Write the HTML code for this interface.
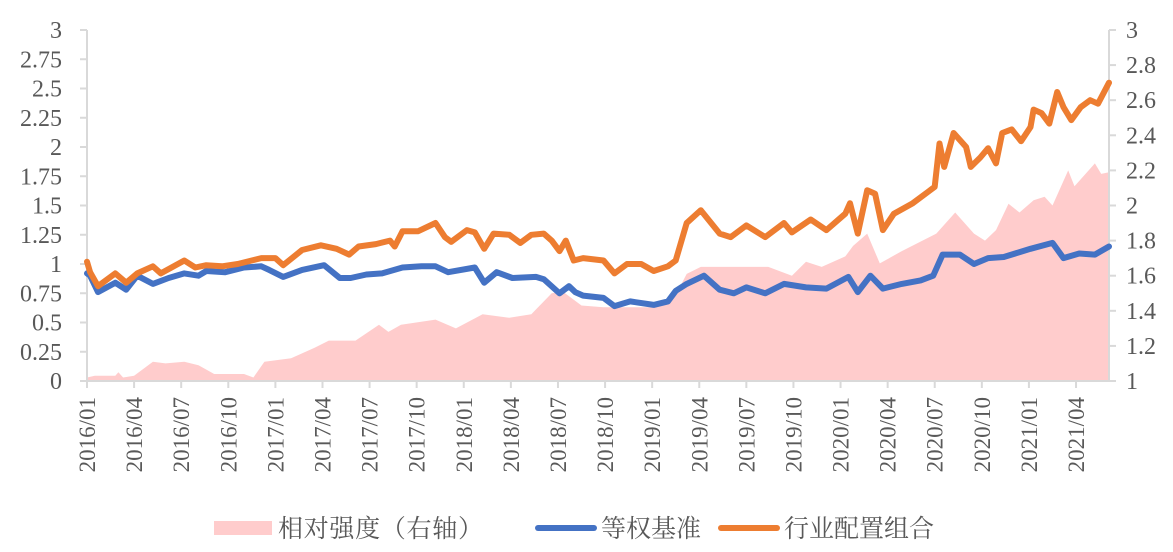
<!DOCTYPE html>
<html><head><meta charset="utf-8"><style>
html,body{margin:0;padding:0;background:#fff;}
svg{display:block;}
text{font-family:"Liberation Serif","Noto Serif CJK SC",serif;fill:#595959;}
.cjk{font-family:"Liberation Serif","Noto Serif CJK SC","Noto Sans CJK SC",serif;}
</style></head><body>
<svg id="chart" width="1173" height="552" viewBox="0 0 1173 552">
<g id="area"></g>
<g id="grid"></g>
<g id="lines"></g>
<g id="legend">
 <rect x="214" y="521" width="58" height="14" fill="#ffcccc"/>
 <text class="cjk" x="278" y="537" font-size="25" textLength="205">相对强度（右轴）</text>
 <line x1="538" y1="528" x2="594" y2="528" stroke="#4472c4" stroke-width="6" stroke-linecap="round"/>
 <text class="cjk" x="601" y="537" font-size="25">等权基准</text>
 <line x1="721" y1="528" x2="777" y2="528" stroke="#ed7d31" stroke-width="6" stroke-linecap="round"/>
 <text class="cjk" x="784" y="537" font-size="25">行业配置组合</text>
</g>
</svg>
<script>
// x in months since 2016/01
const blueMonths=[0,0.2,0.7,1.8,2.5,3.2,4.2,5.2,6.2,7.1,7.6,8.8,10,11.1,11.6,12.5,13.7,15.1,16.1,16.8,17.8,18.8,20.1,21.3,22.2,23,24.7,25.3,26.1,27.1,28.6,29.1,30.1,30.7,31.1,31.6,32.9,33.6,34.6,36.1,37,37.5,38.2,39.3,40.3,41.2,42,43.2,44.4,45.8,47.1,48.5,49.1,49.9,50.7,51.9,53.1,53.9,54.5,55.6,56.5,57.4,58.4,60.1,61.5,62.2,63.2,64.2,65.1];
const blueValues=[0.92,0.9,0.76,0.84,0.78,0.9,0.83,0.88,0.92,0.9,0.94,0.93,0.97,0.98,0.95,0.89,0.95,0.99,0.88,0.88,0.91,0.92,0.97,0.98,0.98,0.93,0.97,0.84,0.93,0.88,0.89,0.87,0.75,0.81,0.76,0.73,0.71,0.64,0.68,0.65,0.68,0.77,0.83,0.9,0.78,0.75,0.8,0.75,0.83,0.8,0.79,0.89,0.76,0.9,0.79,0.83,0.86,0.9,1.08,1.08,1.0,1.05,1.06,1.13,1.18,1.05,1.09,1.08,1.15];
const orangeMonths=[0,0.2,0.7,1.8,2.5,3.2,4.2,4.7,6.2,6.9,7.6,8.6,9.6,11.1,12,12.5,13.7,14.9,15.9,16.7,17.3,18.4,19.3,19.6,20.1,21.1,22.2,22.8,23.2,24.2,24.7,25.3,25.9,26.9,27.6,28.3,29.1,29.6,30.1,30.5,31,31.6,32.9,33.6,34.4,35.3,36.1,37,37.5,38.2,39.1,40.3,41,42,43.2,44.4,44.9,46.1,47.1,48.3,48.6,49.1,49.7,50.2,50.7,51.4,52.6,53.6,54,54.3,54.6,55.2,56,56.3,56.9,57.4,57.9,58.3,58.9,59.5,60.1,60.3,60.8,61.3,61.8,62.2,62.7,63.3,63.9,64.4,65.1];
const orangeValues=[1.02,0.93,0.81,0.92,0.84,0.92,0.98,0.92,1.03,0.97,0.99,0.98,1.0,1.05,1.05,0.99,1.12,1.16,1.13,1.08,1.15,1.17,1.2,1.15,1.28,1.28,1.35,1.23,1.19,1.29,1.27,1.13,1.26,1.25,1.18,1.25,1.26,1.2,1.11,1.2,1.03,1.05,1.03,0.92,1.0,1.0,0.94,0.98,1.03,1.35,1.46,1.26,1.23,1.33,1.23,1.35,1.27,1.38,1.29,1.43,1.52,1.26,1.63,1.6,1.29,1.43,1.52,1.62,1.66,2.03,1.83,2.12,2.0,1.83,1.91,1.99,1.86,2.12,2.15,2.05,2.17,2.32,2.29,2.2,2.47,2.34,2.23,2.34,2.4,2.37,2.55];
const areaMonths=[0,0.5,1.8,2.0,2.3,3,4.2,5,6.2,7.1,8.1,10,10.6,11.3,13,14.5,15.4,17.1,18.6,19.2,20,22.2,23.5,25.2,26.9,28.3,29.6,30.3,31.5,32.9,36,37.5,38.2,39.1,41,43.4,44.9,45.8,46.8,48.3,48.8,49.7,50.5,51.9,54.1,55.3,56.5,57.2,57.9,58.7,59.4,60.3,61,61.5,62.5,62.9,64.2,64.6,65.1];
const areaValues=[1.02,1.03,1.03,1.05,1.02,1.03,1.11,1.1,1.11,1.09,1.04,1.04,1.02,1.11,1.13,1.19,1.23,1.23,1.32,1.28,1.32,1.35,1.30,1.38,1.36,1.38,1.50,1.51,1.43,1.42,1.42,1.49,1.61,1.65,1.65,1.65,1.60,1.68,1.65,1.71,1.77,1.84,1.67,1.74,1.84,1.96,1.84,1.80,1.86,2.01,1.96,2.03,2.05,2.0,2.2,2.11,2.24,2.18,2.19];
const xTickLabels=["2016/01","2016/04","2016/07","2016/10","2017/01","2017/04","2017/07","2017/10","2018/01","2018/04","2018/07","2018/10","2019/01","2019/04","2019/07","2019/10","2020/01","2020/04","2020/07","2020/10","2021/01","2021/04"];
const leftTicks=["0","0.25","0.5","0.75","1","1.25","1.5","1.75","2","2.25","2.5","2.75","3"];
const rightTicks=["1","1.2","1.4","1.6","1.8","2","2.2","2.4","2.6","2.8","3"];

const X0=87,X1=1109,Y0=381,Y1=30,MMAX=65.1;
const sx=m=>X0+(m/MMAX)*(X1-X0);
const syL=v=>Y0-(v/3)*(Y0-Y1);
const syR=v=>Y0-((v-1)/2)*(Y0-Y1);
const NS="http://www.w3.org/2000/svg";
function mk(tag,attrs,parent){const e=document.createElementNS(NS,tag);for(const k in attrs)e.setAttribute(k,attrs[k]);parent.appendChild(e);return e;}

const ag=document.getElementById('area');
let d="M"+sx(areaMonths[0])+","+Y0;
areaMonths.forEach((m,i)=>{d+=" L"+sx(m).toFixed(1)+","+syR(areaValues[i]).toFixed(1);});
d+=" L"+sx(areaMonths[areaMonths.length-1])+","+Y0+" Z";
const ap=mk('path',{d:d,fill:'#ffcccc'},ag);



const gg=document.getElementById('grid');
const axL=mk('line',{x1:X0,y1:Y1,x2:X0,y2:Y0,stroke:'#d9d9d9','stroke-width':2},gg);


const axR=mk('line',{x1:X1,y1:Y1,x2:X1,y2:Y0,stroke:'#d9d9d9','stroke-width':2},gg);


const axX=mk('line',{x1:X0-7,y1:Y0,x2:X1,y2:Y0,stroke:'#d9d9d9','stroke-width':2},gg);


leftTicks.forEach((t,i)=>{
  const y=syL(parseFloat(t));
  mk('line',{x1:X0-7,y1:y,x2:X0,y2:y,stroke:'#d9d9d9','stroke-width':2},gg);
  const tx=mk('text',{x:62,y:y+8,'font-size':24,'text-anchor':'end'},gg);
  tx.textContent=t;
  
  
});
rightTicks.forEach((t,i)=>{
  const y=syR(parseFloat(t));
  mk('line',{x1:X1,y1:y,x2:X1+7,y2:y,stroke:'#d9d9d9','stroke-width':2},gg);
  const tx=mk('text',{x:1126,y:y+8,'font-size':24},gg);
  tx.textContent=t;
  
  
});
xTickLabels.forEach((t,i)=>{
  const x=sx(i*3);
  mk('line',{x1:x,y1:Y0,x2:x,y2:Y0+7,stroke:'#d9d9d9','stroke-width':2},gg);
  const tx=mk('text',{x:0,y:0,'font-size':23,'text-anchor':'end',transform:`translate(${x+8},${Y0+16}) rotate(-90)`},gg);
  tx.textContent=t;
  
  
});

const lg=document.getElementById('lines');
function pathOf(ms,vs){return ms.map((m,i)=>(i?"L":"M")+sx(m).toFixed(1)+","+syL(vs[i]).toFixed(1)).join(" ");}
const bl=mk('path',{d:pathOf(blueMonths,blueValues),fill:'none',stroke:'#4472c4','stroke-width':6,'stroke-linejoin':'round','stroke-linecap':'round'},lg);


const ol=mk('path',{d:pathOf(orangeMonths,orangeValues),fill:'none',stroke:'#ed7d31','stroke-width':6,'stroke-linejoin':'round','stroke-linecap':'round'},lg);


</script>
</body></html>
